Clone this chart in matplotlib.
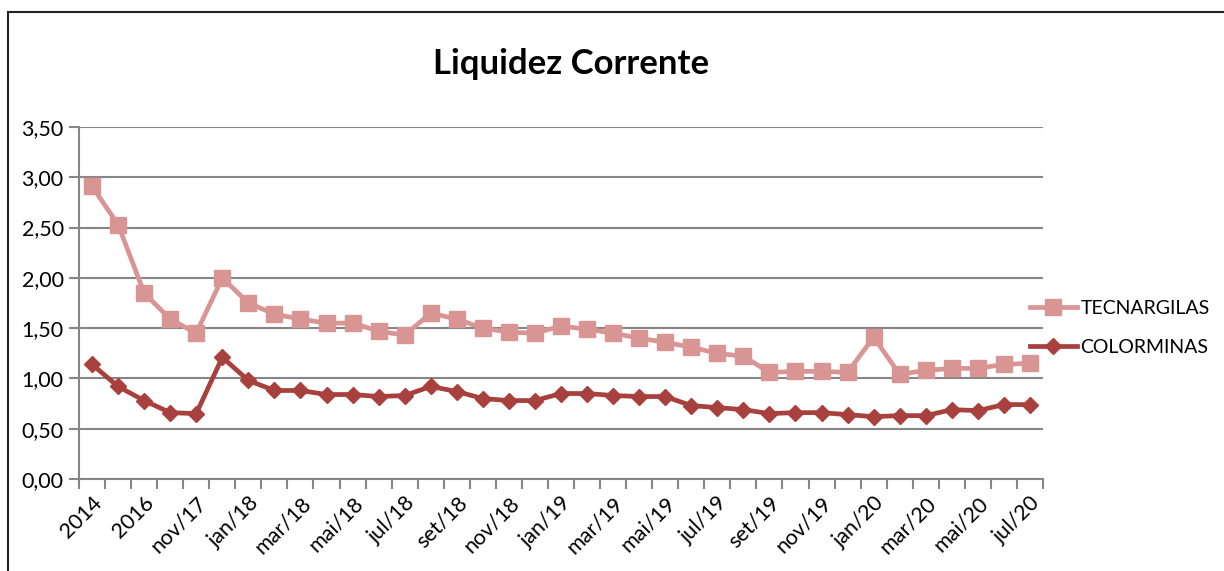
import matplotlib.pyplot as plt
import matplotlib.ticker as ticker
import numpy as np
from matplotlib.patches import Rectangle

# Categorias (um ponto por mes, rotulo a cada dois)
periodos = ["2014", "2015", "2016", "2017", "nov/17", "dez/17",
            "jan/18", "fev/18", "mar/18", "abr/18", "mai/18", "jun/18",
            "jul/18", "ago/18", "set/18", "out/18", "nov/18", "dez/18",
            "jan/19", "fev/19", "mar/19", "abr/19", "mai/19", "jun/19",
            "jul/19", "ago/19", "set/19", "out/19", "nov/19", "dez/19",
            "jan/20", "fev/20", "mar/20", "abr/20", "mai/20", "jun/20",
            "jul/20"]

tecnargilas = [2.91, 2.53, 1.85, 1.59, 1.45, 2.00, 1.75, 1.64, 1.59, 1.55,
               1.55, 1.47, 1.43, 1.65, 1.59, 1.50, 1.46, 1.45, 1.52, 1.49,
               1.45, 1.40, 1.36, 1.31, 1.25, 1.22, 1.06, 1.07, 1.07, 1.06,
               1.41, 1.04, 1.08, 1.10, 1.10, 1.14, 1.15]

colorminas = [1.14, 0.92, 0.78, 0.66, 0.65, 1.21, 0.98, 0.88, 0.88, 0.84,
              0.84, 0.82, 0.83, 0.92, 0.87, 0.80, 0.78, 0.78, 0.85, 0.85,
              0.83, 0.82, 0.82, 0.73, 0.71, 0.69, 0.65, 0.66, 0.66, 0.64,
              0.62, 0.63, 0.63, 0.69, 0.68, 0.74, 0.74]

W, H = 1224, 571
fig = plt.figure(figsize=(W / 100, H / 100), dpi=100)
plt.rcParams['font.family'] = ['Lato', 'DejaVu Sans']

# moldura preta do grafico (corta na direita e embaixo)
fig.patches.append(Rectangle((8 / W, -0.1), 1.2, 1 - 12 / H + 0.1,
                             transform=fig.transFigure, fill=False,
                             edgecolor="#222222", linewidth=1.5))

ax = fig.add_axes([79 / W, 1 - 479 / H, (1043 - 79) / W, (479 - 127) / H])

x = np.arange(len(periodos))
ax.plot(x, tecnargilas, color="#D99594", linewidth=3.4, marker="s",
        markersize=12, label="TECNARGILAS")
ax.plot(x, colorminas, color="#A8403D", linewidth=3.4, marker="D",
        markersize=8, label="COLORMINAS")

ax.set_xlim(-0.5, len(periodos) - 0.5)
ax.set_ylim(0, 3.5)
ax.yaxis.set_major_locator(ticker.MultipleLocator(0.5))
ax.yaxis.set_major_formatter(ticker.FuncFormatter(lambda v, p: f"{v:.2f}".replace(".", ",")))
ax.grid(axis="y", color="#868686", linewidth=1.5)
ax.set_axisbelow(True)

# rotulos a cada dois meses, marcas entre categorias
ax.set_xticks(x[::2])
ax.set_xticklabels(periodos[::2], rotation=45, ha="right", va="top",
                   rotation_mode="anchor", fontsize=15.5)
ax.tick_params(axis="x", which="major", length=0, pad=10)
ax.set_xticks(np.arange(len(periodos) + 1) - 0.5, minor=True)
ax.tick_params(axis="x", which="minor", length=7, width=1.5, color="#868686")
ax.tick_params(axis="y", length=7, width=1.5, color="#868686", labelsize=15.5, pad=4)

for side in ["top", "right"]:
    ax.spines[side].set_visible(False)
for side in ["left", "bottom"]:
    ax.spines[side].set_color("#868686")
    ax.spines[side].set_linewidth(1.5)

fig.text(571 / W, 1 - 64 / H, "Liquidez Corrente", ha="center", va="center",
         fontsize=25, fontweight="bold")

fig.legend(loc="center left", bbox_to_anchor=(1030 / W, 1 - 328 / H),
           frameon=False, fontsize=14, handlelength=2.4, labelspacing=1.15,
           handletextpad=0.2, borderaxespad=0, borderpad=0)

fig.savefig("out.png", dpi=100)
